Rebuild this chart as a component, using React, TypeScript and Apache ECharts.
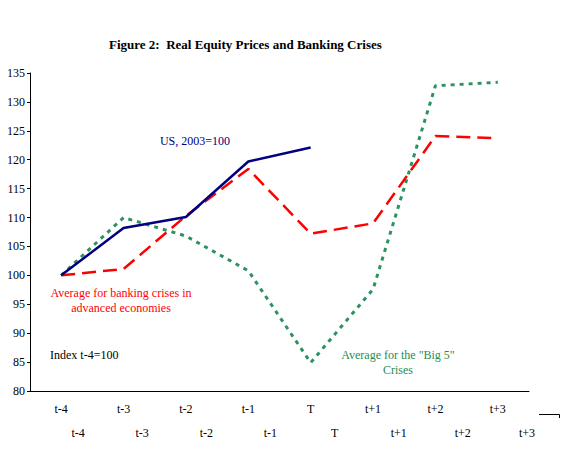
import React, { useEffect, useRef } from "react";
import * as echarts from "echarts";

// Event window around a banking crisis
const periods = ["t-4", "t-3", "t-2", "t-1", "T", "t+1", "t+2", "t+3"];

// Real equity price indices (t-4 = 100)
const usIndex = [100, 108.2, 110.1, 119.7, 122.1, null, null, null];
const advancedAvg = [100, 101.1, 110.3, 118.4, 107.2, 109.0, 124.1, 123.7];
const big5Avg = [100, 110.0, 106.8, 100.8, 84.9, 97.6, 132.8, 133.4];

// Value axis
const yMin = 80;
const yMax = 135;
const yStep = 5;

const SERIF = "Liberation Serif";

export default function App() {
  const ref = useRef<HTMLDivElement>(null);

  useEffect(() => {
    if (!ref.current) return;
    const chart = echarts.init(ref.current, null, { renderer: "svg" });

    const labelStyle = { fontFamily: SERIF, fontSize: 12, color: "#000" };
    const note = (fill: string, align: string) => ({
      fill,
      fontFamily: SERIF,
      fontSize: 12,
      align,
      verticalAlign: "middle",
      lineHeight: 15,
    });

    chart.setOption({
      animation: false,
      backgroundColor: "#fff",
      title: {
        text: "Figure 2:  Real Equity Prices and Banking Crises",
        left: 104,
        top: 33,
        textStyle: { fontFamily: SERIF, fontSize: 13, fontWeight: "bold", color: "#000" },
      },
      grid: [
        { left: 30, right: 47, top: 73, bottom: 62 },
        { left: 46, right: 17, top: 73, bottom: 62 },
      ],
      xAxis: [
        {
          type: "category",
          gridIndex: 0,
          data: periods,
          boundaryGap: true,
          axisLine: { lineStyle: { color: "#000", width: 1 } },
          axisTick: { inside: true, length: 4, lineStyle: { color: "#000" } },
          axisLabel: { ...labelStyle, margin: 12 },
          splitLine: { show: false },
        },
        {
          type: "category",
          gridIndex: 1,
          data: periods,
          boundaryGap: true,
          axisLine: { show: false },
          axisTick: { show: false },
          axisLabel: { ...labelStyle, margin: 36 },
          splitLine: { show: false },
        },
      ],
      yAxis: [
        {
          type: "value",
          gridIndex: 0,
          min: yMin,
          max: yMax,
          interval: yStep,
          axisLine: { show: true, lineStyle: { color: "#000", width: 1 } },
          axisTick: { show: true, length: 3, lineStyle: { color: "#000" } },
          axisLabel: { ...labelStyle, margin: 5 },
          splitLine: { show: false },
        },
        {
          type: "value",
          gridIndex: 1,
          min: yMin,
          max: yMax,
          show: false,
          splitLine: { show: false },
        },
      ],
      series: [
        {
          name: "Average for the \"Big 5\" Crises",
          type: "line",
          data: big5Avg,
          symbol: "none",
          lineStyle: { color: "#2e9160", width: 3, type: [4, 5], cap: "butt" },
          z: 2,
        },
        {
          name: "Average for banking crises in advanced economies",
          type: "line",
          data: advancedAvg,
          symbol: "none",
          lineStyle: { color: "#ff0000", width: 2.5, type: [14, 7], cap: "butt" },
          z: 3,
        },
        {
          name: "US, 2003=100",
          type: "line",
          data: usIndex,
          symbol: "none",
          connectNulls: false,
          lineStyle: { color: "#000080", width: 2.5 },
          z: 4,
        },
      ],
      graphic: [
        {
          type: "text",
          x: 195,
          y: 141,
          style: { text: "US, 2003=100", ...note("#000080", "center") },
        },
        {
          type: "text",
          x: 121,
          y: 300,
          style: { text: "Average for banking crises in\nadvanced economies", ...note("#ff0000", "center") },
        },
        {
          type: "text",
          x: 50,
          y: 355,
          style: { text: "Index t-4=100", ...note("#000", "left") },
        },
        {
          type: "text",
          x: 398,
          y: 362,
          style: { text: "Average for the \"Big 5\"\nCrises", ...note("#1f8c50", "center") },
        },
        {
          type: "polyline",
          shape: { points: [[539, 414.5], [559.5, 414.5], [559.5, 418]] },
          style: { stroke: "#000", lineWidth: 1, fill: "none" },
        },
      ],
    });

    return () => chart.dispose();
  }, []);

  return (
    <div
      ref={ref}
      style={{ position: "fixed", left: 0, top: 0, width: 576, height: 453 }}
    />
  );
}
